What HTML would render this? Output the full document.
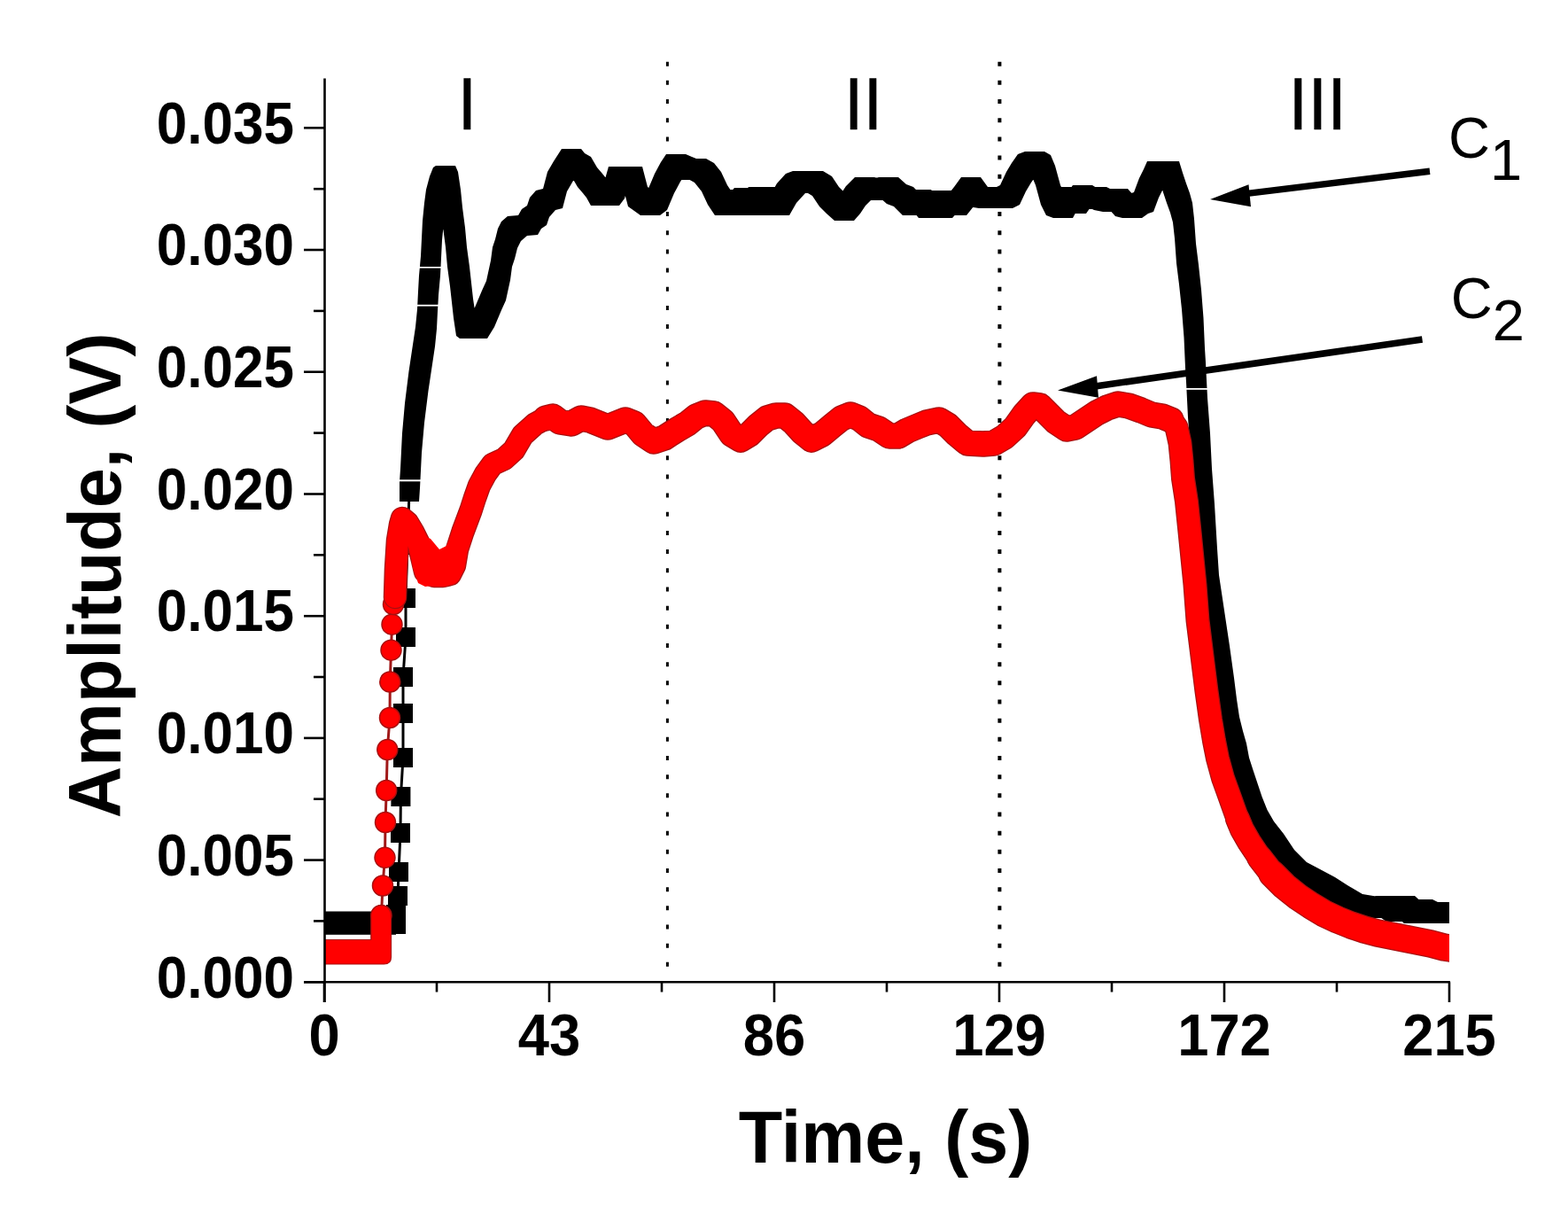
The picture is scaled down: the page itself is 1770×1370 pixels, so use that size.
<!DOCTYPE html>
<html><head><meta charset="utf-8"><title>Amplitude vs Time</title>
<style>html,body{margin:0;padding:0;background:#fff;}svg{display:block;}
text{font-family:"Liberation Sans", Arial, sans-serif;}</style></head><body>
<svg width="1770" height="1370" viewBox="0 0 1770 1370">
<rect width="1770" height="1370" fill="#fff"/>
<defs><clipPath id="pc"><rect x="366" y="60" width="1270" height="1048"/></clipPath></defs>

<line x1="753.4" y1="69.7" x2="753.4" y2="1093" stroke="#000" stroke-width="3" stroke-dasharray="5 16.17"/>
<line x1="1128.4" y1="69.7" x2="1128.4" y2="1093" stroke="#000" stroke-width="4" stroke-dasharray="5 16.17"/>
<g clip-path="url(#pc)">
<rect x="366" y="1028.5" width="81" height="26.3" fill="#000"/>
<polyline points="447,1043 447,1032 449,1011 450,984 452,940 452.4,899 455,855 455,805 455,764 458,719 458,675 460,615 462,555" fill="none" stroke="#000" stroke-width="3"/>
<rect x="436" y="1032" width="22" height="22" fill="#000"/>
<rect x="436" y="1021" width="22" height="22" fill="#000"/>
<rect x="438" y="1000" width="22" height="22" fill="#000"/>
<rect x="439" y="973" width="22" height="22" fill="#000"/>
<rect x="441" y="929" width="22" height="22" fill="#000"/>
<rect x="441.4" y="888" width="22" height="22" fill="#000"/>
<rect x="444" y="844" width="22" height="22" fill="#000"/>
<rect x="444" y="794" width="22" height="22" fill="#000"/>
<rect x="444" y="753" width="22" height="22" fill="#000"/>
<rect x="447" y="708" width="22" height="22" fill="#000"/>
<rect x="447" y="664" width="22" height="22" fill="#000"/>
<rect x="449" y="604" width="22" height="22" fill="#000"/>
<rect x="451" y="544" width="22" height="22" fill="#000"/>
<path d="M451,544 452,529 474,529 474,551 473,566 451,566ZM452,529 454,489 476,489 476,511 474,551 452,551ZM454,489 457,455 479,455 479,477 476,511 454,511ZM457,455 459,439 481,439 481,461 479,477 457,477ZM459,439 461.5,419 483.5,419 483.5,441 481,461 459,461ZM461.5,419 466,389 488,389 488,411 483.5,441 461.5,441ZM466,389 469,369 491,369 491,391 488,411 466,411ZM469,369 471,349 493,349 493,371 491,391 469,391ZM471,349 472,329 494,329 494,351 493,371 471,371ZM472,329 473,311 495,311 495,333 494,351 472,351ZM473,311 475,289 497,289 497,311 495,333 473,333ZM475,289 476,269 498,269 498,291 497,311 475,311ZM476,269 477,249 499,249 499,271 498,291 476,291ZM477,249 479,229 501,229 501,251 499,271 477,271ZM479,229 481,214 503,214 503,236 501,251 479,251ZM481,214 485,199 507,199 507,221 503,236 481,236ZM485,199 489,189 511,189 511,211 507,221 485,221ZM489,189 492,187 514,187 514,209 511,211 489,211ZM492,187 514,187 517,194 517,216 495,216 492,209ZM495,194 517,194 520,214 520,236 498,236 495,216ZM498,214 520,214 522,234 522,256 500,256 498,236ZM500,234 522,234 525,257 525,279 503,279 500,256ZM503,257 525,257 527,279 527,301 505,301 503,279ZM505,279 527,279 530,301 530,323 508,323 505,301ZM508,301 530,301 532,319 532,341 510,341 508,323ZM510,319 532,319 534,337 534,359 512,359 510,341ZM512,337 534,337 537,357 537,379 515,379 512,359ZM515,357 537,357 541,360 541,382 519,382 515,379ZM519,360 550,360 550,382 519,382ZM528,360 536,347 558,347 558,369 550,382 528,382ZM536,347 544,328 566,328 566,350 558,369 536,369ZM544,328 549,317 571,317 571,339 566,350 544,350ZM549,317 554,294 576,294 576,316 571,339 549,339ZM554,294 556,279 578,279 578,301 576,316 554,316ZM556,279 559,270 581,270 581,292 578,301 556,301ZM559,270 562,258 584,258 584,280 581,292 559,292ZM562,258 566,250 588,250 588,272 584,280 562,280ZM566,250 573,244 595,244 595,266 588,272 566,272ZM573,244 585,243 607,243 607,265 595,266 573,266ZM585,243 589,236 611,236 611,258 607,265 585,265ZM589,236 595,232 617,232 617,254 611,258 589,258ZM595,232 598,223 620,223 620,245 617,254 595,254ZM598,223 605,215 627,215 627,237 620,245 598,245ZM605,215 613,213 635,213 635,235 627,237 605,237ZM613,213 618,194 640,194 640,216 635,235 613,235ZM618,194 625,182 647,182 647,204 640,216 618,216ZM625,182 634,168 656,168 656,190 647,204 625,204ZM634,168 656,168 660,173 660,195 638,195 634,190ZM638,173 660,173 667,177 667,199 645,199 638,195ZM645,177 667,177 674,189 674,211 652,211 645,199ZM652,189 674,189 680,196 680,218 658,218 652,211ZM658,196 680,196 684,201 684,223 662,223 658,218ZM662,201 684,201 689,210 689,232 667,232 662,223ZM667,210 699,210 699,232 667,232ZM677,210 683,202 705,202 705,224 699,232 677,232ZM683,202 687,188 709,188 709,210 705,224 683,224ZM687,188 725,188 725,210 687,210ZM703,188 725,188 731,211 731,233 709,233 703,210ZM709,211 731,211 745,221 745,243 723,243 709,233ZM723,221 731,215 753,215 753,237 745,243 723,243ZM731,215 739,196 761,196 761,218 753,237 731,237ZM739,196 746,183 768,183 768,205 761,218 739,218ZM746,183 752,174 774,174 774,196 768,205 746,205ZM752,174 774,174 781,177 781,199 759,199 752,196ZM759,177 781,177 791,181 791,203 769,203 759,199ZM769,181 775,179 797,179 797,201 791,203 769,203ZM775,179 797,179 806,184 806,206 784,206 775,201ZM784,184 806,184 814,194 814,216 792,216 784,206ZM792,194 814,194 821,209 821,231 799,231 792,216ZM799,209 821,209 829,221 829,243 807,243 799,231ZM807,221 814,214 836,214 836,236 829,243 807,243ZM814,214 836,214 843,221 843,243 821,243 814,236ZM821,221 829,212 851,212 851,234 843,243 821,243ZM829,212 851,212 859,221 859,243 837,243 829,234ZM837,221 845,211 867,211 867,233 859,243 837,243ZM845,211 867,211 875,221 875,243 853,243 845,233ZM853,221 861,211 883,211 883,233 875,243 853,243ZM861,211 883,211 891,221 891,243 869,243 861,233ZM869,221 877,207 899,207 899,229 891,243 869,243ZM877,207 887,196 909,196 909,218 899,229 877,229ZM887,196 895,193 917,193 917,215 909,218 887,218ZM895,193 929,193 929,215 895,215ZM907,193 929,193 939,199 939,221 917,221 907,215ZM917,199 939,199 947,211 947,233 925,233 917,221ZM925,211 947,211 955,219 955,241 933,241 925,233ZM933,219 955,219 964,227 964,249 942,249 933,241ZM942,227 949,219 971,219 971,241 964,249 942,249ZM949,219 955,210 977,210 977,232 971,241 949,241ZM955,210 965,200 987,200 987,222 977,232 955,232ZM965,200 987,200 1001,204 1001,226 979,226 965,222ZM979,204 992,200 1014,200 1014,222 1001,226 979,226ZM992,200 1014,200 1023,208 1023,230 1001,230 992,222ZM1001,208 1023,208 1031,211 1031,233 1009,233 1001,230ZM1009,211 1031,211 1041,221 1041,243 1019,243 1009,233ZM1019,221 1029,214 1051,214 1051,236 1041,243 1019,243ZM1029,214 1051,214 1059,224 1059,246 1037,246 1029,236ZM1037,224 1045,215 1067,215 1067,237 1059,246 1037,246ZM1045,215 1067,215 1075,224 1075,246 1053,246 1045,237ZM1053,224 1061,215 1083,215 1083,237 1075,246 1053,246ZM1061,215 1083,215 1091,221 1091,243 1069,243 1061,237ZM1069,221 1077,211 1099,211 1099,233 1091,243 1069,243ZM1077,211 1085,200 1107,200 1107,222 1099,233 1077,233ZM1085,200 1107,200 1115,211 1115,233 1093,233 1085,222ZM1093,211 1115,211 1127,213 1127,235 1105,235 1093,233ZM1105,213 1113,211 1135,211 1135,233 1127,235 1105,235ZM1113,211 1135,211 1143,213 1143,235 1121,235 1113,233ZM1121,213 1129,209 1151,209 1151,231 1143,235 1121,235ZM1129,209 1136,194 1158,194 1158,216 1151,231 1129,231ZM1136,194 1142,184 1164,184 1164,206 1158,216 1136,216ZM1142,184 1149,174 1171,174 1171,196 1164,206 1142,206ZM1149,174 1157,171 1179,171 1179,193 1171,196 1149,196ZM1157,171 1179,171 1186,175 1186,197 1164,197 1157,193ZM1164,175 1186,175 1191,187 1191,209 1169,209 1164,197ZM1169,187 1191,187 1197,209 1197,231 1175,231 1169,209ZM1175,209 1197,209 1203,221 1203,243 1181,243 1175,231ZM1181,221 1203,221 1211,224 1211,246 1189,246 1181,243ZM1189,224 1196,211 1218,211 1218,233 1211,246 1189,246ZM1196,211 1218,211 1226,219 1226,241 1204,241 1196,233ZM1204,219 1211,209 1233,209 1233,231 1226,241 1204,241ZM1211,209 1233,209 1241,214 1241,236 1219,236 1211,231ZM1219,214 1227,211 1249,211 1249,233 1241,236 1219,236ZM1227,211 1249,211 1257,215 1257,237 1235,237 1227,233ZM1235,215 1257,215 1267,217 1267,239 1245,239 1235,237ZM1245,217 1251,213 1273,213 1273,235 1267,239 1245,239ZM1251,213 1273,213 1281,222 1281,244 1259,244 1251,235ZM1259,222 1281,222 1289,224 1289,246 1267,246 1259,244ZM1267,224 1274,219 1296,219 1296,241 1289,246 1267,246ZM1274,219 1280,217 1302,217 1302,239 1296,241 1274,241ZM1280,217 1286,201 1308,201 1308,223 1302,239 1280,239ZM1286,201 1291,191 1313,191 1313,213 1308,223 1286,223ZM1291,191 1295,182 1317,182 1317,204 1313,213 1291,213ZM1295,182 1331,182 1331,204 1295,204ZM1309,182 1331,182 1335,195 1335,217 1313,217 1309,204ZM1313,195 1335,195 1339,207 1339,229 1317,229 1313,217ZM1317,207 1339,207 1343,218 1343,240 1321,240 1317,229ZM1321,218 1343,218 1346,229 1346,251 1324,251 1321,240ZM1324,229 1346,229 1348,247 1348,269 1326,269 1324,251ZM1326,247 1348,247 1350,275 1350,297 1328,297 1326,269ZM1328,275 1350,275 1353,299 1353,321 1331,321 1328,297ZM1331,299 1353,299 1356,327 1356,349 1334,349 1331,321ZM1334,327 1356,327 1358.5,359 1358.5,381 1336.5,381 1334,349ZM1336.5,359 1358.5,359 1360,393 1360,415 1338,415 1336.5,381ZM1338,393 1360,393 1361,409 1361,431 1339,431 1338,415ZM1339,409 1361,409 1363,449 1363,471 1341,471 1339,431ZM1341,449 1363,449 1366,489 1366,511 1344,511 1341,471ZM1344,489 1366,489 1368,529 1368,551 1346,551 1344,511ZM1346,529 1368,529 1371,569 1371,591 1349,591 1346,551ZM1349,569 1371,569 1374,619 1374,641 1352,641 1349,591ZM1352,619 1374,619 1376,649 1376,671 1354,671 1352,641ZM1354,649 1376,649 1382,689 1382,711 1360,711 1354,671ZM1360,689 1382,689 1388,729 1388,751 1366,751 1360,711ZM1366,729 1388,729 1393,765 1393,787 1371,787 1366,751ZM1371,765 1393,765 1396,789 1396,811 1374,811 1371,787ZM1374,789 1396,789 1399,809 1399,831 1377,831 1374,811ZM1377,809 1399,809 1403,825 1403,847 1381,847 1377,831ZM1381,825 1403,825 1407,839 1407,861 1385,861 1381,847ZM1385,839 1407,839 1410,855 1410,877 1388,877 1385,861ZM1388,855 1410,855 1414.5,869 1414.5,891 1392.5,891 1388,877ZM1392.5,869 1414.5,869 1419.5,884 1419.5,906 1397.5,906 1392.5,891ZM1397.5,884 1419.5,884 1424.5,899 1424.5,921 1402.5,921 1397.5,906ZM1402.5,899 1424.5,899 1430.5,914 1430.5,936 1408.5,936 1402.5,921ZM1408.5,914 1430.5,914 1438,927 1438,949 1416,949 1408.5,936ZM1416,927 1438,927 1449,941 1449,963 1427,963 1416,949ZM1427,941 1449,941 1461,959 1461,981 1439,981 1427,963ZM1439,959 1461,959 1475,973 1475,995 1453,995 1439,981ZM1453,973 1475,973 1492,982 1492,1004 1470,1004 1453,995ZM1470,982 1492,982 1507,990 1507,1012 1485,1012 1470,1004ZM1485,990 1507,990 1521,999 1521,1021 1499,1021 1485,1012ZM1499,999 1521,999 1538,1009 1538,1031 1516,1031 1499,1021ZM1516,1009 1538,1009 1556,1012 1556,1034 1534,1034 1516,1031ZM1534,1012 1556,1012 1567,1014 1567,1036 1545,1036 1534,1034ZM1545,1014 1555,1011 1577,1011 1577,1033 1567,1036 1545,1036ZM1555,1011 1577,1011 1587,1018 1587,1040 1565,1040 1555,1033ZM1565,1018 1575,1011 1597,1011 1597,1033 1587,1040 1565,1040ZM1575,1011 1597,1011 1607,1020 1607,1042 1585,1042 1575,1033ZM1585,1020 1595,1015 1617,1015 1617,1037 1607,1042 1585,1042ZM1595,1015 1617,1015 1627,1020 1627,1042 1605,1042 1595,1037ZM1605,1020 1615,1018 1637,1018 1637,1040 1627,1042 1605,1042ZM1615,1018 1637,1018 1647,1020 1647,1042 1625,1042 1615,1040ZM1625,1020 1661,1020 1661,1042 1625,1042Z" fill="#000"/>
<rect x="470" y="301" width="30" height="1.6" fill="#fff"/>
<rect x="469" y="343.8" width="28" height="1.8" fill="#fff"/>
<rect x="448" y="541.3" width="28" height="2" fill="#fff"/>
<rect x="1337" y="438" width="28" height="1.8" fill="#fff"/>
<polyline points="430.5,1033 432,999.5 434.5,967.8 435,928 436.2,892 437.3,846 440,810 440.3,769.5 441.5,733.7 442.5,704.7 444,682 446,674" fill="none" stroke="#a01818" stroke-width="3"/>
<circle cx="430.5" cy="1033" r="11.5" fill="#f00" stroke="#a81010" stroke-width="1.5"/>
<circle cx="432" cy="999.5" r="11.5" fill="#f00" stroke="#a81010" stroke-width="1.5"/>
<circle cx="434.5" cy="967.8" r="11.5" fill="#f00" stroke="#a81010" stroke-width="1.5"/>
<circle cx="435" cy="928" r="11.5" fill="#f00" stroke="#a81010" stroke-width="1.5"/>
<circle cx="436.2" cy="892" r="11.5" fill="#f00" stroke="#a81010" stroke-width="1.5"/>
<circle cx="437.3" cy="846" r="11.5" fill="#f00" stroke="#a81010" stroke-width="1.5"/>
<circle cx="440" cy="810" r="11.5" fill="#f00" stroke="#a81010" stroke-width="1.5"/>
<circle cx="440.3" cy="769.5" r="11.5" fill="#f00" stroke="#a81010" stroke-width="1.5"/>
<circle cx="441.5" cy="733.7" r="11.5" fill="#f00" stroke="#a81010" stroke-width="1.5"/>
<circle cx="442.5" cy="704.7" r="11.5" fill="#f00" stroke="#a81010" stroke-width="1.5"/>
<circle cx="444" cy="682" r="11.5" fill="#f00" stroke="#a81010" stroke-width="1.5"/>
<circle cx="446" cy="674" r="11.5" fill="#f00" stroke="#a81010" stroke-width="1.5"/>
<path d="M360,1060.5 H418.8 V1033 A11.35,11.35 0 0 1 441.5,1033 V1080 Q441.5,1088 433.5,1088 H360 Z" fill="#f00" stroke="#a81010" stroke-width="1.2"/>
<polyline points="446,674 447,642 449,610 452,592 454,585 460,590 466,600 472,612 476,628 480,645 490,650 500,650 508,648 513,638 516,620 522.5,600 527,588 531.5,576 536,562 541,548 548,535 556,524 569,518 580,508 590,491 604,478.5 616,472" fill="none" stroke="#a81010" stroke-width="26.5" stroke-linejoin="round" stroke-linecap="round"/>
<polyline points="616,472 624,470 632,476 645,478 656,472 666,474 676,478 686,482 696,478 706,474 716,478 726,490 738,498 750,494 764,485 776,478 786,470 796,466 806,467 816,475 826,490 836,496 846,490 856,480 866,472 876,469 886,469 896,477 906,488 916,496 928,490 940,480 950,472 960,468 970,472 980,480 992,484 1004,492 1014,492 1024,486 1036,481 1046,477 1060,474 1070,480 1080,490 1092,500 1110,501 1122,500 1134,493 1146,482 1156,468 1166,457 1174,458 1182,466 1192,476 1204,484 1214,482 1226,474 1238,466 1250,460 1262,456 1274,458 1288,463 1300,468 1312,470 1322,474" fill="none" stroke="#a81010" stroke-width="29.5" stroke-linejoin="round" stroke-linecap="round"/>
<polyline points="1322,474 1328,482 1332,500 1334,520 1335.5,540 1339.5,566 1343,600 1346,630 1349,660 1352,700 1357,740 1362,780 1366.5,812 1370.5,836 1374.5,856 1380.5,878 1387,896 1392,910 1397,924 1402,936 1410,950 1422,968 1436,986" fill="none" stroke="#a81010" stroke-width="27.0" stroke-linejoin="round" stroke-linecap="round"/>
<polyline points="1397,924 1402,936 1410,950 1422,968 1436,986" fill="none" stroke="#a81010" stroke-width="28.0" stroke-linejoin="round" stroke-linecap="round"/>
<polyline points="1422,968 1436,986 1450,1000 1465,1012" fill="none" stroke="#a81010" stroke-width="29.5" stroke-linejoin="round" stroke-linecap="round"/>
<polyline points="1436,986 1450,1000 1465,1012 1480,1022 1495,1031 1510,1038 1525,1044 1540,1049 1555,1053 1570,1056 1585,1059 1600,1062 1615,1065 1630,1069 1650,1072" fill="none" stroke="#a81010" stroke-width="31.5" stroke-linejoin="round" stroke-linecap="round"/>
<polyline points="446,674 447,642 449,610 452,592 454,585 460,590 466,600 472,612 476,628 480,645 490,650 500,650 508,648 513,638 516,620 522.5,600 527,588 531.5,576 536,562 541,548 548,535 556,524 569,518 580,508 590,491 604,478.5 616,472" fill="none" stroke="#f00" stroke-width="24" stroke-linejoin="round" stroke-linecap="round"/>
<polyline points="616,472 624,470 632,476 645,478 656,472 666,474 676,478 686,482 696,478 706,474 716,478 726,490 738,498 750,494 764,485 776,478 786,470 796,466 806,467 816,475 826,490 836,496 846,490 856,480 866,472 876,469 886,469 896,477 906,488 916,496 928,490 940,480 950,472 960,468 970,472 980,480 992,484 1004,492 1014,492 1024,486 1036,481 1046,477 1060,474 1070,480 1080,490 1092,500 1110,501 1122,500 1134,493 1146,482 1156,468 1166,457 1174,458 1182,466 1192,476 1204,484 1214,482 1226,474 1238,466 1250,460 1262,456 1274,458 1288,463 1300,468 1312,470 1322,474" fill="none" stroke="#f00" stroke-width="27" stroke-linejoin="round" stroke-linecap="round"/>
<polyline points="1322,474 1328,482 1332,500 1334,520 1335.5,540 1339.5,566 1343,600 1346,630 1349,660 1352,700 1357,740 1362,780 1366.5,812 1370.5,836 1374.5,856 1380.5,878 1387,896 1392,910 1397,924 1402,936 1410,950 1422,968 1436,986" fill="none" stroke="#f00" stroke-width="24.5" stroke-linejoin="round" stroke-linecap="round"/>
<polyline points="1397,924 1402,936 1410,950 1422,968 1436,986" fill="none" stroke="#f00" stroke-width="25.5" stroke-linejoin="round" stroke-linecap="round"/>
<polyline points="1422,968 1436,986 1450,1000 1465,1012" fill="none" stroke="#f00" stroke-width="27" stroke-linejoin="round" stroke-linecap="round"/>
<polyline points="1436,986 1450,1000 1465,1012 1480,1022 1495,1031 1510,1038 1525,1044 1540,1049 1555,1053 1570,1056 1585,1059 1600,1062 1615,1065 1630,1069 1650,1072" fill="none" stroke="#f00" stroke-width="29" stroke-linejoin="round" stroke-linecap="round"/>
<polygon points="470,588 476,604 486,608 496,620 504,616 508,608 512,596 520,630 518,646 510,658 496,660 480,662 472,658 466,640 462,610" fill="#f00"/>
</g>
<g stroke="#000" stroke-width="2.6" fill="none">
<line x1="366.5" y1="88.5" x2="366.5" y2="1131"/>
<line x1="343" y1="1108.3" x2="1637" y2="1108.3"/>
<line x1="343" y1="1108.3" x2="366" y2="1108.3"/>
<line x1="354" y1="1039.4" x2="366" y2="1039.4"/>
<line x1="343" y1="970.6" x2="366" y2="970.6"/>
<line x1="354" y1="901.7" x2="366" y2="901.7"/>
<line x1="343" y1="832.9" x2="366" y2="832.9"/>
<line x1="354" y1="764" x2="366" y2="764"/>
<line x1="343" y1="695.2" x2="366" y2="695.2"/>
<line x1="354" y1="626.3" x2="366" y2="626.3"/>
<line x1="343" y1="557.5" x2="366" y2="557.5"/>
<line x1="354" y1="488.6" x2="366" y2="488.6"/>
<line x1="343" y1="419.7" x2="366" y2="419.7"/>
<line x1="354" y1="350.9" x2="366" y2="350.9"/>
<line x1="343" y1="282" x2="366" y2="282"/>
<line x1="354" y1="213.2" x2="366" y2="213.2"/>
<line x1="343" y1="144.3" x2="366" y2="144.3"/>
<line x1="366" y1="1108.3" x2="366" y2="1131"/>
<line x1="493" y1="1108.3" x2="493" y2="1119.5"/>
<line x1="620" y1="1108.3" x2="620" y2="1131"/>
<line x1="747" y1="1108.3" x2="747" y2="1119.5"/>
<line x1="874" y1="1108.3" x2="874" y2="1131"/>
<line x1="1001" y1="1108.3" x2="1001" y2="1119.5"/>
<line x1="1128" y1="1108.3" x2="1128" y2="1131"/>
<line x1="1255" y1="1108.3" x2="1255" y2="1119.5"/>
<line x1="1382" y1="1108.3" x2="1382" y2="1131"/>
<line x1="1509" y1="1108.3" x2="1509" y2="1119.5"/>
<line x1="1636" y1="1108.3" x2="1636" y2="1131"/>
</g>
<g font-weight="bold" font-size="66" fill="#000">
<text transform="translate(332,1125.5) scale(0.94,1)" text-anchor="end">0.000</text>
<text transform="translate(332,987.8) scale(0.94,1)" text-anchor="end">0.005</text>
<text transform="translate(332,850.1) scale(0.94,1)" text-anchor="end">0.010</text>
<text transform="translate(332,712.4) scale(0.94,1)" text-anchor="end">0.015</text>
<text transform="translate(332,574.7) scale(0.94,1)" text-anchor="end">0.020</text>
<text transform="translate(332,436.9) scale(0.94,1)" text-anchor="end">0.025</text>
<text transform="translate(332,299.2) scale(0.94,1)" text-anchor="end">0.030</text>
<text transform="translate(332,161.5) scale(0.94,1)" text-anchor="end">0.035</text>
<text transform="translate(366,1191.2) scale(0.96,1)" text-anchor="middle">0</text>
<text transform="translate(620,1191.2) scale(0.96,1)" text-anchor="middle">43</text>
<text transform="translate(874,1191.2) scale(0.96,1)" text-anchor="middle">86</text>
<text transform="translate(1128,1191.2) scale(0.96,1)" text-anchor="middle">129</text>
<text transform="translate(1382,1191.2) scale(0.96,1)" text-anchor="middle">172</text>
<text transform="translate(1636,1191.2) scale(0.96,1)" text-anchor="middle">215</text>
</g>
<text transform="translate(999.5,1312.3) scale(0.97,1)" text-anchor="middle" font-weight="bold" font-size="83.5">Time, (s)</text>
<text transform="translate(136.2,649.5) rotate(-90) scale(0.962,1)" x="0" y="0" text-anchor="middle" font-weight="bold" font-size="84">Amplitude, (V)</text>
<g font-size="83" fill="#000" stroke="#000" stroke-width="0.5">
<text transform="translate(527.4,145.6) scale(0.945,1)" text-anchor="middle">I</text>
<text transform="translate(974.6,145.6) scale(0.945,1)" text-anchor="middle">II</text>
<text transform="translate(1487.3,145.6) scale(0.945,1)" text-anchor="middle">III</text>
</g>
<g font-size="65" fill="#000">
<text x="1635" y="177.5">C<tspan dy="25">1</tspan></text>
<text x="1637.8" y="358.5">C<tspan dy="25">2</tspan></text>
</g>
<line x1="1408" y1="218.4" x2="1614" y2="193.2" stroke="#000" stroke-width="7.5"/>
<polygon points="1366,225 1409.5,208.3 1412,233.2" fill="#000"/>
<line x1="1236" y1="436" x2="1605.5" y2="383" stroke="#000" stroke-width="7.5"/>
<polygon points="1194,440.5 1238,424.3 1240,448.8" fill="#000"/>
</svg></body></html>
